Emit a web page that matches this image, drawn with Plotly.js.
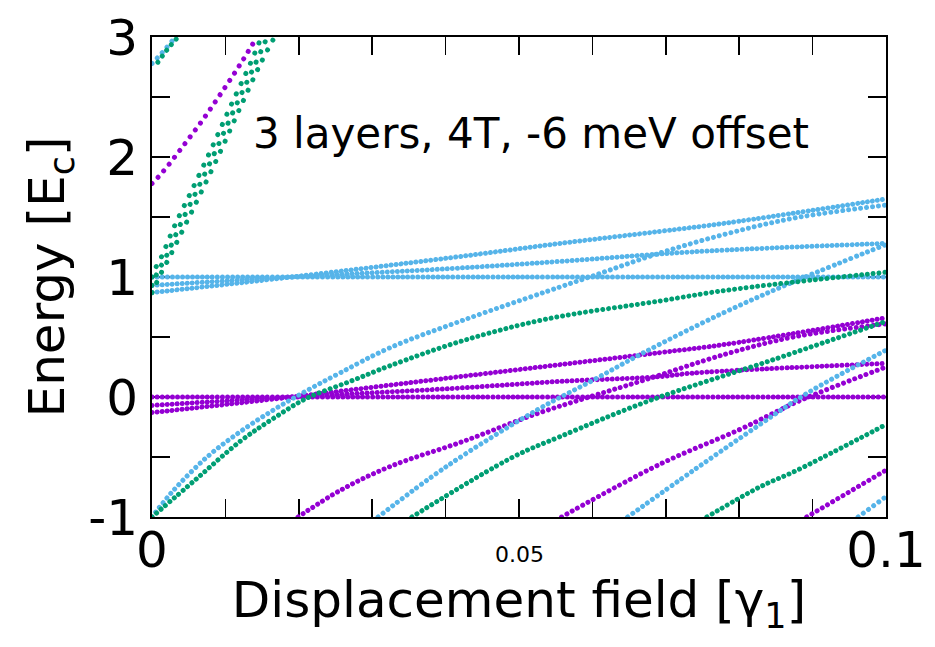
<!DOCTYPE html>
<html>
<head>
<meta charset="utf-8">
<script src="https://cdn.plot.ly/plotly-3.0.1.min.js"></script>
<style>
html,body{margin:0;padding:0;background:#ffffff;}
#chart .js-line{stroke-linecap:round !important;}
</style>
</head>
<body>
<div id="chart" style="width:935px;height:647px;"></div>
<script>
// ---------- tick labels ----------
const xTickVals = [0, 0.1];
const xTickText = ['0', '0.1'];
const xMinorVals = [0.01, 0.02, 0.03, 0.04, 0.05, 0.06, 0.07, 0.08, 0.09];
const xMidLabel = '0.05';
const xMidValue = 0.05;
const yTickVals = [-1, 0, 1, 2, 3];
const yTickText = ['-1', '0', '1', '2', '3'];
const yMinorVals = [-0.5, 0.5, 1.5, 2.5];
const plotLabel = '3 layers, 4T, -6 meV offset';

// ---------- purple levels ----------
const pFlatX = [0, 0.05, 0.1];
const pFlatE = [0, 0, 0];
const pAX = [0, 0.019, 0.0406, 0.0556, 0.0692, 0.0738, 0.1];
const pAE = [-0.07, 0, 0.07, 0.13, 0.17, 0.2, 0.28];
const pBX = [0, 0.019, 0.0406, 0.0556, 0.0692, 0.0783, 0.1];
const pBE = [-0.13, 0, 0.16, 0.27, 0.37, 0.44, 0.66];
const pCX = [0.0199, 0.0256, 0.0324, 0.0424, 0.0524, 0.0601, 0.0665, 0.0783, 0.0874, 0.1];
const pCE = [-1, -0.78, -0.58, -0.37, -0.14, 0.01, 0.13, 0.36, 0.5, 0.61];
const pDX = [0.0558, 0.0692, 0.0801, 0.0883, 0.1];
const pDE = [-1, -0.56, -0.27, -0.03, 0.25];
const pEX = [0.0892, 0.1];
const pEE = [-1, -0.61];
const pTopX = [0, 0.0014, 0.0041, 0.0068, 0.0094, 0.0121, 0.0143];
const pTopE = [1.78, 1.87, 2.08, 2.3, 2.53, 2.78, 3.0];

// ---------- blue levels ----------
const bFlatX = [0, 0.05, 0.1];
const bFlatE = [1, 1, 1];
const bAX = [0, 0.019, 0.0406, 0.0556, 0.0692, 0.0783, 0.1];
const bAE = [0.87, 1.0, 1.16, 1.28, 1.38, 1.45, 1.65];
const bBX = [0, 0.019, 0.0406, 0.0556, 0.0738, 0.1];
const bBE = [0.93, 1.0, 1.07, 1.13, 1.21, 1.28];
const bCX = [0, 0.0029, 0.0075, 0.012, 0.0165, 0.021, 0.0256, 0.0324, 0.0424, 0.0538, 0.0601, 0.0692, 0.0783, 0.0874, 0.1];
const bCE = [-1, -0.78, -0.5, -0.29, -0.11, 0.05, 0.2, 0.41, 0.64, 0.88, 1.01, 1.2, 1.36, 1.49, 1.6];
const bDX = [0.0308, 0.0401, 0.0524, 0.0601, 0.067, 0.0778, 0.088, 0.1];
const bDE = [-1, -0.58, -0.11, 0.14, 0.37, 0.7, 0.975, 1.27];
const bEX = [0.0648, 0.0738, 0.0828, 0.0892, 0.1];
const bEE = [-1, -0.61, -0.23, 0.03, 0.39];
const bFX = [0.0962, 0.1];
const bFE = [-1, -0.83];
const bTopX = [0, 0.0014, 0.0028, 0.0033];
const bTopE = [2.78, 2.87, 2.97, 3.0];

// ---------- green levels ----------
const gCX = [0, 0.0061, 0.012, 0.0165, 0.0211, 0.027, 0.0324, 0.0424, 0.0538, 0.0692, 0.0783, 0.1];
const gCE = [-1, -0.68, -0.37, -0.18, -0.01, 0.13, 0.26, 0.47, 0.65, 0.8, 0.89, 1.04];
const gDX = [0.0354, 0.0492, 0.0556, 0.0678, 0.0846, 0.1];
const gDE = [-1, -0.5, -0.33, -0.03, 0.31, 0.63];
const gEX = [0.0756, 0.0828, 0.0879, 0.1];
const gEE = [-1, -0.75, -0.61, -0.23];
const g1X = [0, 0.0006, 0.0013, 0.002, 0.0045, 0.0068, 0.0095, 0.012, 0.0148, 0.0167];
const g1E = [0.87, 0.95, 1.04, 1.12, 1.43, 1.72, 2.07, 2.41, 2.78, 3.0];
const g2X = [0, 0.0006, 0.0013, 0.002, 0.0038, 0.0061, 0.0088, 0.0113, 0.0141, 0.0157];
const g2E = [0.93, 1.02, 1.1, 1.18, 1.43, 1.72, 2.07, 2.41, 2.78, 3.0];
const g3X = [0, 0.0006, 0.0013, 0.0031, 0.0054, 0.0081, 0.0106, 0.0134, 0.0149];
const g3E = [1.0, 1.09, 1.17, 1.43, 1.72, 2.07, 2.41, 2.78, 3.0];
const gTopX = [0.0008, 0.002, 0.0034];
const gTopE = [2.79, 2.89, 2.99];

// ---------- styling ----------
const PURPLE = '#9400D3', GREEN = '#009E73', BLUE = '#56B4E9';
const FONT = 'DejaVu Sans, Verdana, sans-serif';
const DOT = 5;

// [x, y, colour, dot gap along curve]
const series = [
  [pFlatX, pFlatE, PURPLE, 5.0],
  [pAX, pAE, PURPLE, 5.0],
  [pBX, pBE, PURPLE, 5.0],
  [pCX, pCE, PURPLE, 5.8],
  [pDX, pDE, PURPLE, 6.0],
  [pEX, pEE, PURPLE, 6.0],
  [pTopX, pTopE, PURPLE, 8.6],
  [bFlatX, bFlatE, BLUE, 5.0],
  [bAX, bAE, BLUE, 5.0],
  [bBX, bBE, BLUE, 5.0],
  [bCX, bCE, BLUE, 6.0],
  [bDX, bDE, BLUE, 6.0],
  [bEX, bEE, BLUE, 6.0],
  [bFX, bFE, BLUE, 6.4],
  [bTopX, bTopE, BLUE, 7.4],
  [gCX, gCE, GREEN, 5.8],
  [gDX, gDE, GREEN, 5.8],
  [gEX, gEE, GREEN, 5.8],
  [g1X, g1E, GREEN, 11.2],
  [g2X, g2E, GREEN, 11.2],
  [g3X, g3E, GREEN, 11.2],
  [gTopX, gTopE, GREEN, 7.4]
];

const traces = series.map(s => ({
  type: 'scatter',
  mode: 'lines',
  x: s[0],
  y: s[1],
  line: {color: s[2], width: DOT, shape: 'spline', smoothing: 1, dash: '0.01px,' + s[3] + 'px'},
  hoverinfo: 'skip',
  showlegend: false
}));

const axisCommon = {
  showgrid: false,
  zeroline: false,
  showline: true,
  linecolor: '#000000',
  linewidth: 2,
  mirror: 'ticks',
  ticks: 'inside',
  ticklen: 18,
  tickwidth: 1.5,
  tickcolor: '#000000',
  tickmode: 'array',
  layer: 'below traces',
  automargin: false,
  tickfont: {family: FONT, size: 50, color: '#000000'}
};

const layout = {
  width: 935,
  height: 647,
  margin: {l: 152, r: 49, t: 37, b: 130, pad: 0},
  paper_bgcolor: '#ffffff',
  plot_bgcolor: '#ffffff',
  font: {family: FONT, color: '#000000'},
  showlegend: false,
  xaxis: Object.assign({}, axisCommon, {
    range: [0, 0.1],
    tickvals: xTickVals,
    ticktext: xTickText,
    ticklabelstandoff: -12,
    minor: {tickmode: 'array', tickvals: xMinorVals, ticks: 'inside', ticklen: 18, tickwidth: 1.5, tickcolor: '#000000', showgrid: false},
    title: {text: 'Displacement field [γ<sub>1</sub>]', font: {family: FONT, size: 50, color: '#000000'}, standoff: 4}
  }),
  yaxis: Object.assign({}, axisCommon, {
    range: [-1, 3],
    tickvals: yTickVals,
    ticktext: yTickText,
    ticklabelstandoff: 2,
    minor: {tickmode: 'array', tickvals: yMinorVals, ticks: 'inside', ticklen: 18, tickwidth: 1.5, tickcolor: '#000000', showgrid: false},
    title: {text: 'Energy [E<sub>c</sub>]', font: {family: FONT, size: 50, color: '#000000'}, standoff: 8}
  }),
  annotations: [
    {
      text: plotLabel, x: 0.0135, y: 2.2, xref: 'x', yref: 'y',
      xanchor: 'left', yanchor: 'middle', showarrow: false,
      font: {family: FONT, size: 42, color: '#000000'}
    },
    {
      text: xMidLabel, x: xMidValue, y: -0.079, xref: 'x', yref: 'paper',
      xanchor: 'center', yanchor: 'middle', showarrow: false,
      font: {family: FONT, size: 22, color: '#000000'}
    }
  ]
};

Plotly.newPlot('chart', traces, layout, {displayModeBar: false, staticPlot: true});
</script>
</body>
</html>
